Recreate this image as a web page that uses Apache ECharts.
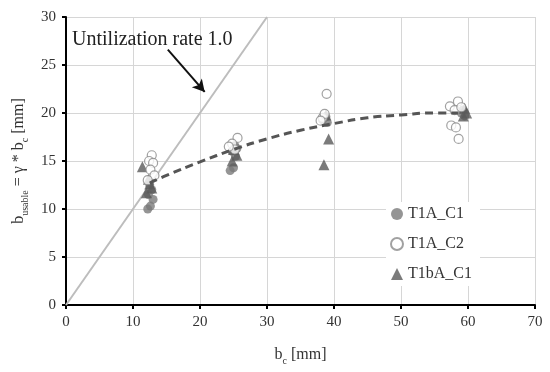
<!DOCTYPE html>
<html><head><meta charset="utf-8">
<script src="https://cdn.jsdelivr.net/npm/echarts@6/dist/echarts.min.js"></script>
<style>html,body{margin:0;padding:0;background:#fff}#c{width:550px;height:372px}</style>
</head><body><div id="c"></div>
<script>
// T1A_C1 (filled circles) [b_c, b_usable]
const t1aC1 = [
  [12.2,10.0],[12.6,10.3],[13.0,11.0],[12.3,11.5],[12.8,12.0],[12.5,12.5],
  [24.5,14.0],[25.0,14.3],[25.3,15.5],[24.8,16.0],[25.5,16.3],[25.2,16.6],
  [38.3,19.3],[38.8,19.6],[39.0,19.0],
  [59.0,20.0],[59.5,19.7],[59.2,20.3]
];
// T1A_C2 (open circles)
const t1aC2 = [
  [12.8,15.6],[12.4,15.0],[13.0,14.8],[12.6,14.1],[13.2,13.5],[12.2,13.0],
  [25.6,17.4],[24.8,16.8],[25.2,16.2],[24.3,16.5],
  [38.9,22.0],[38.3,19.5],[38.6,19.9],[38.0,19.2],
  [57.3,20.7],[58.5,21.2],[58.0,20.3],[57.5,18.7],[58.2,18.5],[58.6,17.3],[59.0,20.6]
];
// T1bA_C1 (triangles)
const t1bAC1 = [
  [11.4,14.4],[12.3,13.1],[12.5,12.6],[12.8,12.2],[12.0,11.7],
  [24.8,15.0],[25.5,15.6],[25.0,16.2],
  [39.2,17.3],[38.5,14.6],[38.8,19.8],
  [59.5,20.5],[59.8,20.0],[59.3,19.7]
];
// trend line
const trendX = [12.5,15,20,25,30,35,40,45,50,55,58.5];
const trendY = [12.7,13.5,14.9,16.2,17.3,18.2,18.9,19.5,19.8,20.0,20.0];
// utilization rate 1.0 line
const rateX = [0,30];
const rateY = [0,30];
const xTicks = [0,10,20,30,40,50,60,70];
const yTicks = [0,5,10,15,20,25,30];
const annoText = 'Untilization rate 1.0';
const arrowFrom = [15.2,26.6];
const arrowTo = [20.7,22.2];

const serif = 'Liberation Serif';
const chart = echarts.init(document.getElementById('c'));
const zip = (a,b)=>a.map((v,i)=>[v,b[i]]);
const richName = {
  n:{fontFamily:serif,fontSize:16,color:'#333',lineHeight:20,verticalAlign:'middle'},
  s:{fontFamily:serif,fontSize:10,color:'#333',verticalAlign:'bottom',lineHeight:20,padding:[0,0,-1,0]}
};
chart.setOption({
  animation:false,
  grid:{left:66,right:15,top:17,bottom:67},
  xAxis:{type:'value',min:0,max:70,interval:10,
    name:'{n|b}{s|c}{n| [mm]}',nameLocation:'middle',nameGap:40,
    nameTextStyle:{rich:richName},
    axisLine:{lineStyle:{color:'#000',width:2}},
    axisTick:{show:true,inside:false,length:4,lineStyle:{color:'#000',width:2}},
    axisLabel:{fontFamily:serif,fontSize:15,color:'#333',margin:10},
    splitLine:{show:true,lineStyle:{color:'#d6d6d6',width:1}}},
  yAxis:{type:'value',min:0,max:30,interval:5,
    name:'{n|b}{s|usable}{n| = γ * b}{s|c}{n| [mm]}',nameLocation:'middle',nameGap:34,nameRotate:90,
    nameTextStyle:{rich:richName},
    axisLine:{show:true,lineStyle:{color:'#000',width:2}},
    axisTick:{show:true,inside:false,length:4,lineStyle:{color:'#000',width:2}},
    axisLabel:{fontFamily:serif,fontSize:15,color:'#333',margin:10},
    splitLine:{show:true,lineStyle:{color:'#d6d6d6',width:1}}},
  legend:{orient:'vertical',left:386,top:202,itemGap:14,itemWidth:12,itemHeight:12,
    backgroundColor:'#fff',padding:[4,8,4,4],
    textStyle:{fontFamily:serif,fontSize:16,color:'#333'},
    data:['T1A_C1','T1A_C2','T1bA_C1']},
  series:[
    {type:'line',name:'rate',data:zip(rateX,rateY),symbol:'none',silent:true,
      lineStyle:{color:'#bdbdbd',width:2},z:1},
    {type:'line',name:'trend',data:zip(trendX,trendY),symbol:'none',smooth:true,
      lineStyle:{color:'#555',width:3,type:[8,5]},z:5},
    {type:'scatter',name:'T1A_C1',data:t1aC1,symbol:'circle',symbolSize:9,
      itemStyle:{color:'#7a7a7a'},z:3},
    {type:'scatter',name:'T1A_C2',data:t1aC2,symbol:'circle',symbolSize:9,
      itemStyle:{color:'#fff',borderColor:'#8a8a8a',borderWidth:1.2},z:4},
    {type:'scatter',name:'T1bA_C1',data:t1bAC1,symbol:'triangle',symbolSize:11,
      itemStyle:{color:'#5a5a5a'},z:3},
    {type:'line',name:'arrow',data:[],silent:true,z:6,
      markLine:{silent:true,symbol:['none','arrow'],symbolSize:[10,12],
        label:{show:false},
        lineStyle:{color:'#111',width:2,type:'solid'},
        data:[[{coord:arrowFrom},{coord:arrowTo}]]}}
  ]
});
// annotation text placed via the chart's own scale
const p = chart.convertToPixel({gridIndex:0},[0.9,27.9]);
chart.setOption({graphic:[{type:'text',left:p[0],top:p[1]-7,
  style:{text:annoText,fontFamily:serif,fontSize:20,fill:'#222'}}]});
</script></body></html>
